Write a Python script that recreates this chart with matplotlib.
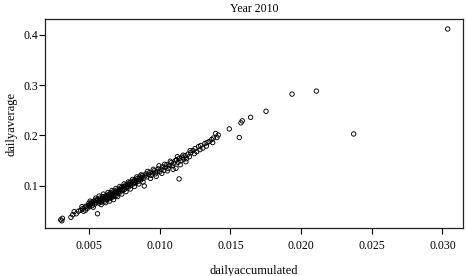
from matplotlib import pyplot as plt

# daily accumulated vs daily average
acc = [0.00300, 0.00308, 0.00312, 0.00372, 0.00385, 0.00395, 0.00410, 0.00425, 0.00440, 0.00455,
       0.00462, 0.00470, 0.00480, 0.00488, 0.00495, 0.00500, 0.00505, 0.00512,
       0.00518, 0.00522, 0.00528, 0.00535, 0.00540, 0.00545, 0.00550, 0.00555, 0.00560, 0.00562,
       0.00566, 0.00570, 0.00575, 0.00580, 0.00584, 0.00588, 0.00592, 0.00596, 0.00600, 0.00604,
       0.00608, 0.00612, 0.00616, 0.00620, 0.00624, 0.00628, 0.00632, 0.00636, 0.00640, 0.00644,
       0.00648, 0.00652, 0.00656, 0.00660, 0.00664, 0.00668, 0.00672, 0.00676, 0.00680, 0.00684,
       0.00688, 0.00692, 0.00696, 0.00700,
       0.00705, 0.00710, 0.00715, 0.00720, 0.00725, 0.00730, 0.00735, 0.00740, 0.00745, 0.00750,
       0.00755, 0.00760, 0.00765, 0.00770, 0.00775, 0.00780, 0.00785, 0.00790, 0.00795, 0.00800,
       0.00806, 0.00812, 0.00818, 0.00824, 0.00830, 0.00836, 0.00842, 0.00848, 0.00854, 0.00860,
       0.00866, 0.00872, 0.00878, 0.00884, 0.00891, 0.00896, 0.00902,
       0.00910, 0.00920, 0.00930, 0.00940, 0.00950, 0.00960, 0.00970, 0.00980, 0.00990, 0.01000,
       0.01010, 0.01020, 0.01030, 0.01040, 0.01050, 0.01060, 0.01070, 0.01080, 0.01090, 0.01100,
       0.01110, 0.01115, 0.01120, 0.01130, 0.01137, 0.01140, 0.01150, 0.01160, 0.01170,
       0.01180, 0.01190, 0.01200, 0.01210, 0.01220, 0.01235, 0.01250, 0.01262, 0.01275, 0.01290,
       0.01305, 0.01320, 0.01335, 0.01350, 0.01368, 0.01380, 0.01396, 0.01405, 0.01414,
       0.00530, 0.00548, 0.00572, 0.00586, 0.00602, 0.00618, 0.00634, 0.00646, 0.00662, 0.00674,
       0.00690, 0.00702, 0.00718, 0.00732, 0.00748, 0.00762, 0.00778, 0.00792, 0.00808, 0.00822,
       0.00838, 0.00852, 0.00868, 0.00882, 0.00915, 0.00935, 0.00955, 0.00975, 0.00995, 0.01015,
       0.01035, 0.01055, 0.01075, 0.01095, 0.01125, 0.01145, 0.01165, 0.01185, 0.01215, 0.01245,
       0.01285, 0.01330, 0.01375, 0.00450, 0.00475, 0.00508,
       0.01492, 0.01563, 0.01575, 0.01584, 0.01643, 0.01752, 0.01936, 0.02108, 0.02372, 0.03037]

avg = [0.033, 0.031, 0.036, 0.038, 0.043, 0.049, 0.045, 0.050, 0.052, 0.055,
       0.050, 0.058, 0.060, 0.056, 0.062, 0.066, 0.059, 0.064,
       0.068, 0.061, 0.066, 0.070, 0.064, 0.072, 0.067, 0.071, 0.045, 0.074,
       0.069, 0.066, 0.073, 0.076, 0.070, 0.068, 0.075, 0.078, 0.072, 0.079,
       0.074, 0.070, 0.077, 0.081, 0.076, 0.073, 0.080, 0.083, 0.078, 0.075,
       0.082, 0.086, 0.080, 0.077, 0.084, 0.088, 0.082, 0.079, 0.086, 0.090,
       0.084, 0.081, 0.088, 0.092,
       0.086, 0.090, 0.094, 0.088, 0.093, 0.097, 0.091, 0.095, 0.099, 0.093,
       0.098, 0.102, 0.096, 0.100, 0.104, 0.098, 0.103, 0.107, 0.101, 0.105,
       0.109, 0.104, 0.108, 0.112, 0.106, 0.111, 0.115, 0.109, 0.114, 0.118,
       0.112, 0.117, 0.121, 0.115, 0.100, 0.120, 0.124,
       0.118, 0.123, 0.127, 0.121, 0.126, 0.130, 0.124, 0.129, 0.134, 0.128,
       0.133, 0.138, 0.131, 0.137, 0.142, 0.135, 0.141, 0.146, 0.140, 0.145,
       0.150, 0.135, 0.152, 0.147, 0.114, 0.155, 0.150, 0.157, 0.153,
       0.160, 0.154, 0.163, 0.158, 0.166, 0.170, 0.174, 0.168, 0.178, 0.180,
       0.175, 0.184, 0.186, 0.188, 0.192, 0.195, 0.204, 0.196, 0.201,
       0.058, 0.076, 0.080, 0.063, 0.084, 0.067, 0.087, 0.070, 0.091, 0.073,
       0.095, 0.079, 0.099, 0.084, 0.104, 0.089, 0.108, 0.094, 0.113, 0.099,
       0.118, 0.104, 0.122, 0.108, 0.129, 0.115, 0.133, 0.119, 0.140, 0.125,
       0.143, 0.130, 0.149, 0.133, 0.158, 0.142, 0.161, 0.148, 0.170, 0.164,
       0.172, 0.179, 0.186, 0.059, 0.052, 0.070,
       0.213, 0.196, 0.225, 0.229, 0.236, 0.248, 0.282, 0.288, 0.203, 0.411]

xticks = [0.005, 0.010, 0.015, 0.020, 0.025, 0.030]
yticks = [0.1, 0.2, 0.3, 0.4]

plt.rcParams['font.family'] = ['Liberation Serif', 'DejaVu Serif']

fig = plt.figure(figsize=(4.67, 2.76), dpi=100)
ax = fig.add_axes([0.0964, 0.174, 0.895, 0.757])

ax.scatter(acc, avg, s=10, facecolors='none', edgecolors='black', linewidths=0.65)

ax.set_xlim(0.00189, 0.03145)
ax.set_ylim(0.0168, 0.4307)
ax.set_xticks(xticks)
ax.set_xticklabels(['%.3f' % v for v in xticks])
ax.set_yticks(yticks)
ax.set_yticklabels(['%.1f' % v for v in yticks])
ax.tick_params(axis='both', direction='out', length=4, width=0.8, labelsize=8.5, colors='black')
ax.tick_params(axis='x', pad=5)
ax.tick_params(axis='y', pad=1)
for s in ax.spines.values():
    s.set_linewidth(0.9)
    s.set_color('#222222')

ax.set_title('Year 2010', fontsize=8.5, pad=5)
ax.set_xlabel('dailyaccumulated', fontsize=9, labelpad=9)
ax.set_ylabel('dailyaverage', fontsize=9, labelpad=4)

fig.savefig('out.png', dpi=100)
